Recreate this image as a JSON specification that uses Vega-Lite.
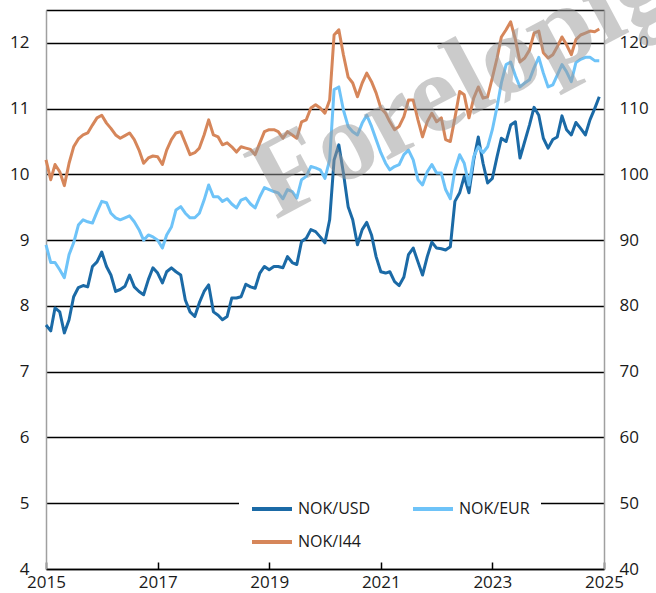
{
  "$schema": "https://vega.github.io/schema/vega-lite/v6.json",
  "width": 558,
  "height": 559,
  "autosize": {"type": "none"},
  "padding": {"left": 46, "top": 10, "right": 52, "bottom": 24},
  "background": "white",
  "config": {
    "font": "Open Sans",
    "view": {"stroke": null},
    "axis": {"labelFont": "Open Sans", "labelFontSize": 17, "labelColor": "#1a1a1a", "title": null}
  },
  "datasets": {
    "fx": [
      {"date":"2015-01-01T00:00","NOK/USD":7.71,"NOK/EUR":8.93,"NOK/I44":102.2},
      {"date":"2015-02-01T00:00","NOK/USD":7.62,"NOK/EUR":8.66,"NOK/I44":99.2},
      {"date":"2015-03-01T00:00","NOK/USD":7.97,"NOK/EUR":8.66,"NOK/I44":101.5},
      {"date":"2015-04-01T00:00","NOK/USD":7.91,"NOK/EUR":8.55,"NOK/I44":100.4},
      {"date":"2015-05-01T00:00","NOK/USD":7.59,"NOK/EUR":8.43,"NOK/I44":98.3},
      {"date":"2015-06-01T00:00","NOK/USD":7.79,"NOK/EUR":8.78,"NOK/I44":101.7},
      {"date":"2015-07-01T00:00","NOK/USD":8.14,"NOK/EUR":8.96,"NOK/I44":104.2},
      {"date":"2015-08-01T00:00","NOK/USD":8.28,"NOK/EUR":9.23,"NOK/I44":105.4},
      {"date":"2015-09-01T00:00","NOK/USD":8.31,"NOK/EUR":9.31,"NOK/I44":106.0},
      {"date":"2015-10-01T00:00","NOK/USD":8.29,"NOK/EUR":9.28,"NOK/I44":106.3},
      {"date":"2015-11-01T00:00","NOK/USD":8.60,"NOK/EUR":9.26,"NOK/I44":107.5},
      {"date":"2015-12-01T00:00","NOK/USD":8.67,"NOK/EUR":9.43,"NOK/I44":108.6},
      {"date":"2016-01-01T00:00","NOK/USD":8.82,"NOK/EUR":9.59,"NOK/I44":109.0},
      {"date":"2016-02-01T00:00","NOK/USD":8.60,"NOK/EUR":9.57,"NOK/I44":107.8},
      {"date":"2016-03-01T00:00","NOK/USD":8.47,"NOK/EUR":9.41,"NOK/I44":107.0},
      {"date":"2016-04-01T00:00","NOK/USD":8.22,"NOK/EUR":9.34,"NOK/I44":106.0},
      {"date":"2016-05-01T00:00","NOK/USD":8.25,"NOK/EUR":9.31,"NOK/I44":105.5},
      {"date":"2016-06-01T00:00","NOK/USD":8.30,"NOK/EUR":9.34,"NOK/I44":105.9},
      {"date":"2016-07-01T00:00","NOK/USD":8.47,"NOK/EUR":9.37,"NOK/I44":106.3},
      {"date":"2016-08-01T00:00","NOK/USD":8.29,"NOK/EUR":9.28,"NOK/I44":105.3},
      {"date":"2016-09-01T00:00","NOK/USD":8.22,"NOK/EUR":9.16,"NOK/I44":103.7},
      {"date":"2016-10-01T00:00","NOK/USD":8.17,"NOK/EUR":9.00,"NOK/I44":101.7},
      {"date":"2016-11-01T00:00","NOK/USD":8.40,"NOK/EUR":9.08,"NOK/I44":102.5},
      {"date":"2016-12-01T00:00","NOK/USD":8.58,"NOK/EUR":9.05,"NOK/I44":102.8},
      {"date":"2017-01-01T00:00","NOK/USD":8.50,"NOK/EUR":9.00,"NOK/I44":102.7},
      {"date":"2017-02-01T00:00","NOK/USD":8.35,"NOK/EUR":8.88,"NOK/I44":101.5},
      {"date":"2017-03-01T00:00","NOK/USD":8.52,"NOK/EUR":9.08,"NOK/I44":103.7},
      {"date":"2017-04-01T00:00","NOK/USD":8.58,"NOK/EUR":9.20,"NOK/I44":105.3},
      {"date":"2017-05-01T00:00","NOK/USD":8.52,"NOK/EUR":9.46,"NOK/I44":106.3},
      {"date":"2017-06-01T00:00","NOK/USD":8.47,"NOK/EUR":9.51,"NOK/I44":106.5},
      {"date":"2017-07-01T00:00","NOK/USD":8.09,"NOK/EUR":9.41,"NOK/I44":104.8},
      {"date":"2017-08-01T00:00","NOK/USD":7.91,"NOK/EUR":9.34,"NOK/I44":103.0},
      {"date":"2017-09-01T00:00","NOK/USD":7.84,"NOK/EUR":9.34,"NOK/I44":103.3},
      {"date":"2017-10-01T00:00","NOK/USD":8.05,"NOK/EUR":9.41,"NOK/I44":104.0},
      {"date":"2017-11-01T00:00","NOK/USD":8.22,"NOK/EUR":9.61,"NOK/I44":106.0},
      {"date":"2017-12-01T00:00","NOK/USD":8.32,"NOK/EUR":9.84,"NOK/I44":108.3},
      {"date":"2018-01-01T00:00","NOK/USD":7.91,"NOK/EUR":9.66,"NOK/I44":106.0},
      {"date":"2018-02-01T00:00","NOK/USD":7.86,"NOK/EUR":9.66,"NOK/I44":105.7},
      {"date":"2018-03-01T00:00","NOK/USD":7.79,"NOK/EUR":9.59,"NOK/I44":104.5},
      {"date":"2018-04-01T00:00","NOK/USD":7.84,"NOK/EUR":9.63,"NOK/I44":104.8},
      {"date":"2018-05-01T00:00","NOK/USD":8.12,"NOK/EUR":9.55,"NOK/I44":104.2},
      {"date":"2018-06-01T00:00","NOK/USD":8.12,"NOK/EUR":9.49,"NOK/I44":103.4},
      {"date":"2018-07-01T00:00","NOK/USD":8.14,"NOK/EUR":9.61,"NOK/I44":104.2},
      {"date":"2018-08-01T00:00","NOK/USD":8.33,"NOK/EUR":9.64,"NOK/I44":104.0},
      {"date":"2018-09-01T00:00","NOK/USD":8.29,"NOK/EUR":9.55,"NOK/I44":103.8},
      {"date":"2018-10-01T00:00","NOK/USD":8.27,"NOK/EUR":9.49,"NOK/I44":103.0},
      {"date":"2018-11-01T00:00","NOK/USD":8.50,"NOK/EUR":9.66,"NOK/I44":104.8},
      {"date":"2018-12-01T00:00","NOK/USD":8.60,"NOK/EUR":9.80,"NOK/I44":106.5},
      {"date":"2019-01-01T00:00","NOK/USD":8.55,"NOK/EUR":9.77,"NOK/I44":106.8},
      {"date":"2019-02-01T00:00","NOK/USD":8.60,"NOK/EUR":9.74,"NOK/I44":106.8},
      {"date":"2019-03-01T00:00","NOK/USD":8.60,"NOK/EUR":9.72,"NOK/I44":106.5},
      {"date":"2019-04-01T00:00","NOK/USD":8.58,"NOK/EUR":9.63,"NOK/I44":105.5},
      {"date":"2019-05-01T00:00","NOK/USD":8.75,"NOK/EUR":9.77,"NOK/I44":106.5},
      {"date":"2019-06-01T00:00","NOK/USD":8.66,"NOK/EUR":9.74,"NOK/I44":106.0},
      {"date":"2019-07-01T00:00","NOK/USD":8.63,"NOK/EUR":9.64,"NOK/I44":105.5},
      {"date":"2019-08-01T00:00","NOK/USD":8.98,"NOK/EUR":9.92,"NOK/I44":108.0},
      {"date":"2019-09-01T00:00","NOK/USD":9.03,"NOK/EUR":9.97,"NOK/I44":108.3},
      {"date":"2019-10-01T00:00","NOK/USD":9.16,"NOK/EUR":10.12,"NOK/I44":110.1},
      {"date":"2019-11-01T00:00","NOK/USD":9.13,"NOK/EUR":10.10,"NOK/I44":110.6},
      {"date":"2019-12-01T00:00","NOK/USD":9.05,"NOK/EUR":10.07,"NOK/I44":110.1},
      {"date":"2020-01-01T00:00","NOK/USD":8.96,"NOK/EUR":9.94,"NOK/I44":109.3},
      {"date":"2020-02-01T00:00","NOK/USD":9.31,"NOK/EUR":10.22,"NOK/I44":111.3},
      {"date":"2020-03-01T00:00","NOK/USD":10.22,"NOK/EUR":11.29,"NOK/I44":121.2},
      {"date":"2020-04-01T00:00","NOK/USD":10.45,"NOK/EUR":11.33,"NOK/I44":122.0},
      {"date":"2020-05-01T00:00","NOK/USD":10.02,"NOK/EUR":10.98,"NOK/I44":118.2},
      {"date":"2020-06-01T00:00","NOK/USD":9.51,"NOK/EUR":10.73,"NOK/I44":114.8},
      {"date":"2020-07-01T00:00","NOK/USD":9.31,"NOK/EUR":10.65,"NOK/I44":113.9},
      {"date":"2020-08-01T00:00","NOK/USD":8.93,"NOK/EUR":10.60,"NOK/I44":111.8},
      {"date":"2020-09-01T00:00","NOK/USD":9.16,"NOK/EUR":10.78,"NOK/I44":113.9},
      {"date":"2020-10-01T00:00","NOK/USD":9.27,"NOK/EUR":10.90,"NOK/I44":115.4},
      {"date":"2020-11-01T00:00","NOK/USD":9.08,"NOK/EUR":10.73,"NOK/I44":114.1},
      {"date":"2020-12-01T00:00","NOK/USD":8.75,"NOK/EUR":10.53,"NOK/I44":112.4},
      {"date":"2021-01-01T00:00","NOK/USD":8.52,"NOK/EUR":10.33,"NOK/I44":110.1},
      {"date":"2021-02-01T00:00","NOK/USD":8.50,"NOK/EUR":10.17,"NOK/I44":109.3},
      {"date":"2021-03-01T00:00","NOK/USD":8.52,"NOK/EUR":10.07,"NOK/I44":108.0},
      {"date":"2021-04-01T00:00","NOK/USD":8.37,"NOK/EUR":10.12,"NOK/I44":106.8},
      {"date":"2021-05-01T00:00","NOK/USD":8.31,"NOK/EUR":10.15,"NOK/I44":107.3},
      {"date":"2021-06-01T00:00","NOK/USD":8.44,"NOK/EUR":10.30,"NOK/I44":108.8},
      {"date":"2021-07-01T00:00","NOK/USD":8.78,"NOK/EUR":10.37,"NOK/I44":111.3},
      {"date":"2021-08-01T00:00","NOK/USD":8.88,"NOK/EUR":10.22,"NOK/I44":111.3},
      {"date":"2021-09-01T00:00","NOK/USD":8.67,"NOK/EUR":9.92,"NOK/I44":108.3},
      {"date":"2021-10-01T00:00","NOK/USD":8.47,"NOK/EUR":9.84,"NOK/I44":105.7},
      {"date":"2021-11-01T00:00","NOK/USD":8.75,"NOK/EUR":10.04,"NOK/I44":108.0},
      {"date":"2021-12-01T00:00","NOK/USD":8.97,"NOK/EUR":10.15,"NOK/I44":109.3},
      {"date":"2022-01-01T00:00","NOK/USD":8.88,"NOK/EUR":10.02,"NOK/I44":108.0},
      {"date":"2022-02-01T00:00","NOK/USD":8.87,"NOK/EUR":10.02,"NOK/I44":108.6},
      {"date":"2022-03-01T00:00","NOK/USD":8.85,"NOK/EUR":9.77,"NOK/I44":105.3},
      {"date":"2022-04-01T00:00","NOK/USD":8.90,"NOK/EUR":9.63,"NOK/I44":105.0},
      {"date":"2022-05-01T00:00","NOK/USD":9.59,"NOK/EUR":10.07,"NOK/I44":108.6},
      {"date":"2022-06-01T00:00","NOK/USD":9.72,"NOK/EUR":10.30,"NOK/I44":112.6},
      {"date":"2022-07-01T00:00","NOK/USD":9.97,"NOK/EUR":10.17,"NOK/I44":112.1},
      {"date":"2022-08-01T00:00","NOK/USD":9.72,"NOK/EUR":9.84,"NOK/I44":108.6},
      {"date":"2022-09-01T00:00","NOK/USD":10.22,"NOK/EUR":10.27,"NOK/I44":111.6},
      {"date":"2022-10-01T00:00","NOK/USD":10.57,"NOK/EUR":10.42,"NOK/I44":113.3},
      {"date":"2022-11-01T00:00","NOK/USD":10.17,"NOK/EUR":10.33,"NOK/I44":111.6},
      {"date":"2022-12-01T00:00","NOK/USD":9.87,"NOK/EUR":10.42,"NOK/I44":111.8},
      {"date":"2023-01-01T00:00","NOK/USD":9.94,"NOK/EUR":10.68,"NOK/I44":114.7},
      {"date":"2023-02-01T00:00","NOK/USD":10.27,"NOK/EUR":11.03,"NOK/I44":117.7},
      {"date":"2023-03-01T00:00","NOK/USD":10.55,"NOK/EUR":11.39,"NOK/I44":120.9},
      {"date":"2023-04-01T00:00","NOK/USD":10.50,"NOK/EUR":11.67,"NOK/I44":122.0},
      {"date":"2023-05-01T00:00","NOK/USD":10.75,"NOK/EUR":11.71,"NOK/I44":123.2},
      {"date":"2023-06-01T00:00","NOK/USD":10.80,"NOK/EUR":11.50,"NOK/I44":120.5},
      {"date":"2023-07-01T00:00","NOK/USD":10.25,"NOK/EUR":11.33,"NOK/I44":117.1},
      {"date":"2023-08-01T00:00","NOK/USD":10.50,"NOK/EUR":11.39,"NOK/I44":117.7},
      {"date":"2023-09-01T00:00","NOK/USD":10.75,"NOK/EUR":11.44,"NOK/I44":118.9},
      {"date":"2023-10-01T00:00","NOK/USD":11.02,"NOK/EUR":11.62,"NOK/I44":121.5},
      {"date":"2023-11-01T00:00","NOK/USD":10.90,"NOK/EUR":11.78,"NOK/I44":121.8},
      {"date":"2023-12-01T00:00","NOK/USD":10.55,"NOK/EUR":11.54,"NOK/I44":118.5},
      {"date":"2024-01-01T00:00","NOK/USD":10.40,"NOK/EUR":11.33,"NOK/I44":117.7},
      {"date":"2024-02-01T00:00","NOK/USD":10.53,"NOK/EUR":11.36,"NOK/I44":118.2},
      {"date":"2024-03-01T00:00","NOK/USD":10.57,"NOK/EUR":11.51,"NOK/I44":119.4},
      {"date":"2024-04-01T00:00","NOK/USD":10.89,"NOK/EUR":11.67,"NOK/I44":120.9},
      {"date":"2024-05-01T00:00","NOK/USD":10.68,"NOK/EUR":11.56,"NOK/I44":119.7},
      {"date":"2024-06-01T00:00","NOK/USD":10.60,"NOK/EUR":11.41,"NOK/I44":118.2},
      {"date":"2024-07-01T00:00","NOK/USD":10.79,"NOK/EUR":11.70,"NOK/I44":120.5},
      {"date":"2024-08-01T00:00","NOK/USD":10.70,"NOK/EUR":11.75,"NOK/I44":121.2},
      {"date":"2024-09-01T00:00","NOK/USD":10.60,"NOK/EUR":11.78,"NOK/I44":121.5},
      {"date":"2024-10-01T00:00","NOK/USD":10.83,"NOK/EUR":11.78,"NOK/I44":121.8},
      {"date":"2024-11-01T00:00","NOK/USD":11.00,"NOK/EUR":11.73,"NOK/I44":121.7},
      {"date":"2024-12-01T00:00","NOK/USD":11.18,"NOK/EUR":11.73,"NOK/I44":122.1}
    ],
    "wm": [{"date":"2022-06-15T00:00","v":11.4,"t":"Foreløpig"}]
  },
  "data": {"name": "fx"},
  "encoding": {
    "x": {
      "field": "date",
      "type": "temporal",
      "scale": {"domain": [{"year": 2015, "month": 1, "date": 1}, {"year": 2025, "month": 1, "date": 1}]},
      "axis": {
        "values": [
          {"year": 2015, "month": 1, "date": 1},
          {"year": 2017, "month": 1, "date": 1},
          {"year": 2019, "month": 1, "date": 1},
          {"year": 2021, "month": 1, "date": 1},
          {"year": 2023, "month": 1, "date": 1},
          {"year": 2025, "month": 1, "date": 1}
        ],
        "format": "%Y",
        "grid": false,
        "domainColor": "#000000",
        "domainWidth": 1.5,
        "tickColor": "#000000",
        "tickWidth": 1.5,
        "tickSize": -7,
        "labelPadding": 12,
        "labelFlush": false,
        "labelOverlap": false
      }
    }
  },
  "layer": [
    {
      "transform": [
        {"fold": ["NOK/USD", "NOK/EUR", "NOK/I44"], "as": ["serie", "verdi"]},
        {"filter": "datum.serie != 'NOK/I44'"}
      ],
      "mark": {"type": "line", "strokeWidth": 3, "strokeJoin": "round"},
      "encoding": {
        "y": {
          "field": "verdi",
          "type": "quantitative",
          "scale": {"domain": [4, 12.5], "nice": false, "zero": false},
          "axis": {
            "orient": "left",
            "values": [4, 5, 6, 7, 8, 9, 10, 11, 12, 12.5],
            "labelExpr": "datum.value == 12.5 ? '' : format(datum.value, 'd')",
            "labelOverlap": false,
            "grid": true,
            "gridColor": "#000000",
            "gridWidth": 1.5,
            "ticks": false,
            "domainColor": "#a0a0a0",
            "domainWidth": 1.5,
            "labelPadding": 17
          }
        },
        "color": {
          "field": "serie",
          "type": "nominal",
          "scale": {"domain": ["NOK/USD", "NOK/I44", "NOK/EUR"], "range": ["#1b6aa6", "#d6865a", "#6ec3f8"]},
          "legend": {
            "title": null,
            "orient": "none",
            "legendX": 193,
            "legendY": 466,
            "columns": 2,
            "fillColor": "white",
            "padding": 11,
            "symbolType": "stroke",
            "symbolSize": 1600,
            "symbolStrokeWidth": 4,
            "labelFont": "Open Sans",
            "labelFontSize": 16,
            "labelColor": "#1a1a1a",
            "labelOffset": 4,
            "columnPadding": 34,
            "rowPadding": 3
          }
        }
      }
    },
    {
      "transform": [
        {"fold": ["NOK/USD", "NOK/EUR", "NOK/I44"], "as": ["serie", "verdi"]},
        {"filter": "datum.serie == 'NOK/I44'"}
      ],
      "mark": {"type": "line", "strokeWidth": 3, "strokeJoin": "round"},
      "encoding": {
        "y": {
          "field": "verdi",
          "type": "quantitative",
          "scale": {"domain": [40, 125], "nice": false, "zero": false},
          "axis": {
            "orient": "right",
            "values": [40, 50, 60, 70, 80, 90, 100, 110, 120],
            "format": "d",
            "labelOverlap": false,
            "grid": false,
            "ticks": false,
            "domainColor": "#a0a0a0",
            "domainWidth": 1.5,
            "labelPadding": 15
          }
        },
        "color": {
          "field": "serie",
          "type": "nominal",
          "scale": {"domain": ["NOK/USD", "NOK/I44", "NOK/EUR"], "range": ["#1b6aa6", "#d6865a", "#6ec3f8"]}
        }
      }
    },
    {
      "data": {"name": "wm"},
      "mark": {"type": "text", "font": "Liberation Serif", "fontWeight": "bold", "fontSize": 112, "angle": -28, "align": "center", "baseline": "middle", "color": "#999999", "opacity": 0.5},
      "encoding": {
        "y": {"field": "v", "type": "quantitative", "scale": {"domain": [4, 12.5], "nice": false, "zero": false}, "axis": null},
        "text": {"field": "t"}
      }
    }
  ],
  "resolve": {"scale": {"y": "independent"}}
}
